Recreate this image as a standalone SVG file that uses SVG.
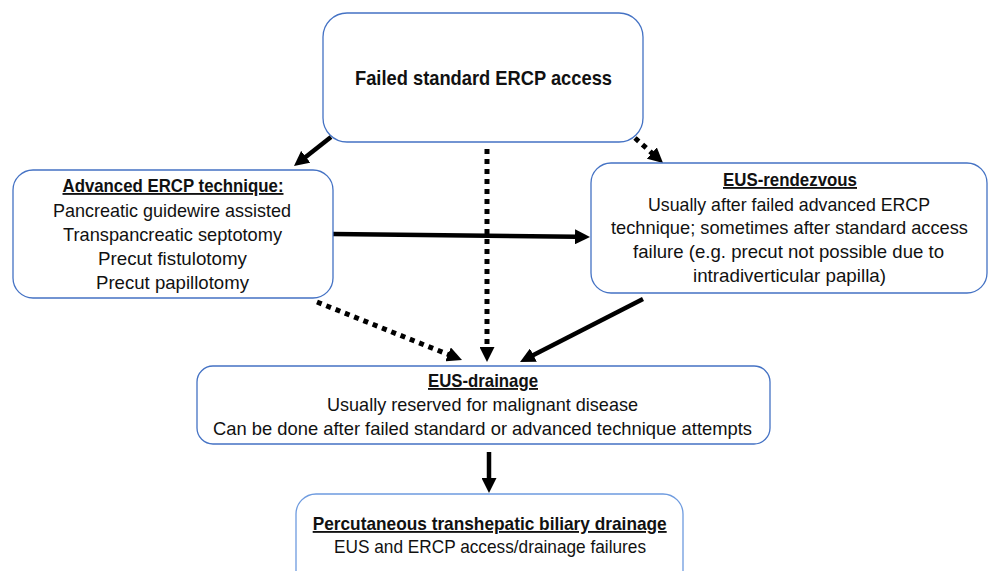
<svg xmlns="http://www.w3.org/2000/svg" width="988" height="571" viewBox="0 0 988 571">
<style>
.box{fill:#fff;stroke:#4472C4;stroke-width:1.3}
.box2{fill:#fff;stroke:#6E9BDF;stroke-width:1.3}
text{font-family:"Liberation Sans",Arial,sans-serif;fill:#111;text-anchor:middle;font-size:18.5px}
.h{font-weight:bold;text-decoration:underline}
.t{font-weight:bold;font-size:21px}
.solid{fill:none;stroke:#000;stroke-width:4.5;marker-end:url(#ah)}
.dot{fill:none;stroke:#000;stroke-width:5;stroke-dasharray:5 5;marker-end:url(#ah)}
</style>
<defs>
<marker id="ah" markerUnits="userSpaceOnUse" viewBox="0 0 15 15" markerWidth="15" markerHeight="15" refX="1" refY="7.5" orient="auto">
<path d="M0,0 L15,7.5 L0,15 z" fill="#000"/>
</marker>
</defs>
<rect width="988" height="571" fill="#fff"/>
<g id="connectors">
<path class="solid" d="M331,137 L305,157.4"/>
<path class="dot" d="M487,149 L487,348"/>
<path class="dot" d="M635,138 L652.6,153.7"/>
<path class="solid" d="M333,234 L576,236.8"/>
<path class="dot" d="M317,302 L449,354.8"/>
<path class="solid" d="M643,299 L532.5,355.6"/>
<path class="solid" d="M489,452 L489,479"/>
</g>
<g id="n-failed">
<rect class="box" x="323" y="13" width="320" height="129" rx="24"/>
<text class="t" x="483.5" y="85" textLength="257" lengthAdjust="spacingAndGlyphs">Failed standard ERCP access</text>
</g>
<g id="n-advanced">
<rect class="box" x="13" y="170" width="320" height="128" rx="20"/>
<text class="h" x="173" y="192" textLength="221" lengthAdjust="spacingAndGlyphs">Advanced ERCP technique:</text>
<text x="172" y="217" textLength="238" lengthAdjust="spacingAndGlyphs">Pancreatic guidewire assisted</text>
<text x="172.5" y="241" textLength="219" lengthAdjust="spacingAndGlyphs">Transpancreatic septotomy</text>
<text x="172.5" y="265" textLength="149" lengthAdjust="spacingAndGlyphs">Precut fistulotomy</text>
<text x="172.5" y="289" textLength="153" lengthAdjust="spacingAndGlyphs">Precut papillotomy</text>
</g>
<g id="n-rendezvous">
<rect class="box" x="591" y="163" width="396" height="130" rx="20"/>
<text class="h" x="790" y="186" textLength="134" lengthAdjust="spacingAndGlyphs">EUS-rendezvous</text>
<text x="789" y="211" textLength="282" lengthAdjust="spacingAndGlyphs">Usually after failed advanced ERCP</text>
<text x="789.5" y="234" textLength="357" lengthAdjust="spacingAndGlyphs">technique; sometimes after standard access</text>
<text x="788.5" y="258" textLength="311" lengthAdjust="spacingAndGlyphs">failure (e.g. precut not possible due to</text>
<text x="789.5" y="282" textLength="193" lengthAdjust="spacingAndGlyphs">intradiverticular papilla)</text>
</g>
<g id="n-drainage">
<rect class="box" x="197" y="366" width="573" height="78" rx="16"/>
<text class="h" x="483" y="387" textLength="110" lengthAdjust="spacingAndGlyphs">EUS-drainage</text>
<text x="482.5" y="411" textLength="311" lengthAdjust="spacingAndGlyphs">Usually reserved for malignant disease</text>
<text x="482.5" y="435" textLength="539" lengthAdjust="spacingAndGlyphs">Can be done after failed standard or advanced technique attempts</text>
</g>
<g id="n-ptbd">
<rect class="box2" x="296" y="494" width="387" height="100" rx="20"/>
<text class="h" x="489.7" y="530" textLength="354" lengthAdjust="spacingAndGlyphs">Percutaneous transhepatic biliary drainage</text>
<text x="490" y="553" textLength="312" lengthAdjust="spacingAndGlyphs">EUS and ERCP access/drainage failures</text>
</g>
</svg>
